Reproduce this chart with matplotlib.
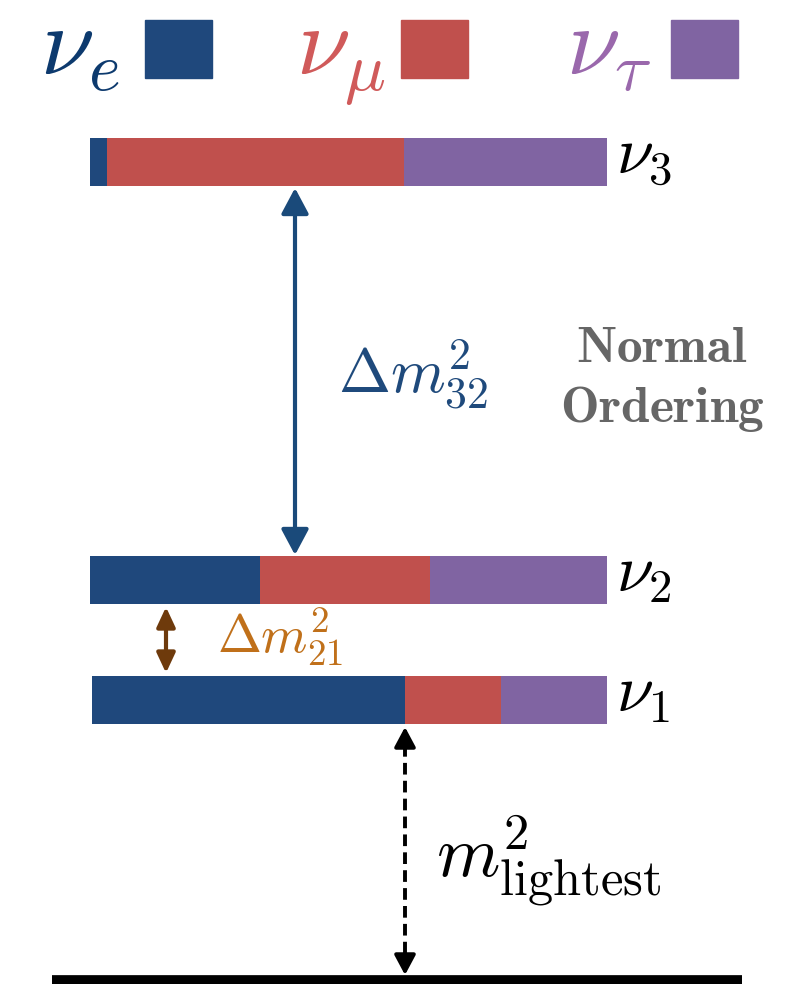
import matplotlib.pyplot as plt

plt.rcParams['mathtext.fontset'] = 'cm'

# flavour content of each mass state (fractions)
states = [r'$\nu_3$', r'$\nu_2$', r'$\nu_1$']
frac_e = [0.033, 0.329, 0.608]
frac_mu = [0.574, 0.329, 0.186]
frac_tau = [0.393, 0.342, 0.206]

flavours = [r'$\nu_e$', r'$\nu_\mu$', r'$\nu_\tau$']
col_bar = ['#1f487c', '#c0504d', '#8064a2']
col_txt = ['#0d3a6e', '#d05a5a', '#9a68ac']

# layout (pixel coords, y down)
bar_y = [162, 580, 700]
lab_base = [174, 592, 712]
bar_x0 = [90, 90, 92]
bar_w = [517, 517, 515]
bar_h = 48

fig = plt.figure(figsize=(7.91, 9.84), dpi=100)
ax = fig.add_axes([0, 0, 1, 1])
ax.set_xlim(0, 791)
ax.set_ylim(984, 0)
ax.axis('off')

for i in range(3):
    left = bar_x0[i]
    for frac, c in zip([frac_e[i], frac_mu[i], frac_tau[i]], col_bar):
        w = frac * bar_w[i]
        ax.barh(bar_y[i], w, height=bar_h, left=left, color=c, edgecolor='none')
        left += w
    ax.text(616, lab_base[i], states[i], fontsize=48, va='baseline', ha='left')

# legend
leg_x = [40, 296, 566]
for i in range(3):
    ax.text(leg_x[i], 74, flavours[i], fontsize=70, color=col_txt[i], va='baseline', ha='left')
    ax.add_patch(plt.Rectangle((leg_x[i] + 105, 20), 67, 58, color=col_bar[i]))

big = dict(color='#1a4a7a', lw=3, shrinkA=0, shrinkB=0,
           arrowstyle='<|-|>,head_length=0.6,head_width=0.32', mutation_scale=26)

# delta m^2_32
ax.annotate('', xy=(295, 188), xytext=(295, 555), arrowprops=big)
ax.text(338, 393, r'$\Delta m^2_{32}$', fontsize=45, color='#1f4a7c', va='baseline', ha='left')

# delta m^2_21
ax.annotate('', xy=(166, 607), xytext=(166, 673),
            arrowprops=dict(color='#6e3a0c', lw=3, shrinkA=0, shrinkB=0,
                            arrowstyle='<|-|>,head_length=0.6,head_width=0.28', mutation_scale=20))
ax.text(217, 653, r'$\Delta m^2_{21}$', fontsize=38, color='#c0701a', va='baseline', ha='left')

# lightest mass
ax.plot([405, 405], [745, 958], color='black', lw=2.8, ls=(0, (3, 1.6)))
tip = dict(color='black', lw=2.8, shrinkA=0, shrinkB=0,
           arrowstyle='-|>,head_length=0.6,head_width=0.32', mutation_scale=20)
ax.annotate('', xy=(405, 727), xytext=(405, 748), arrowprops=tip)
ax.annotate('', xy=(405, 975), xytext=(405, 954), arrowprops=tip)
ax.text(436, 877, r'$m^2_{\mathrm{lightest}}$', fontsize=52, color='black', va='baseline', ha='left')

# ground
ax.plot([52, 742], [980, 980], color='black', lw=7, solid_capstyle='butt')

ax.text(662, 362, r'$\mathbf{Normal}$', fontsize=37, color='#666666', ha='center', va='baseline')
ax.text(662, 422, r'$\mathbf{Ordering}$', fontsize=37, color='#666666', ha='center', va='baseline')

fig.savefig('out.png', dpi=100)
